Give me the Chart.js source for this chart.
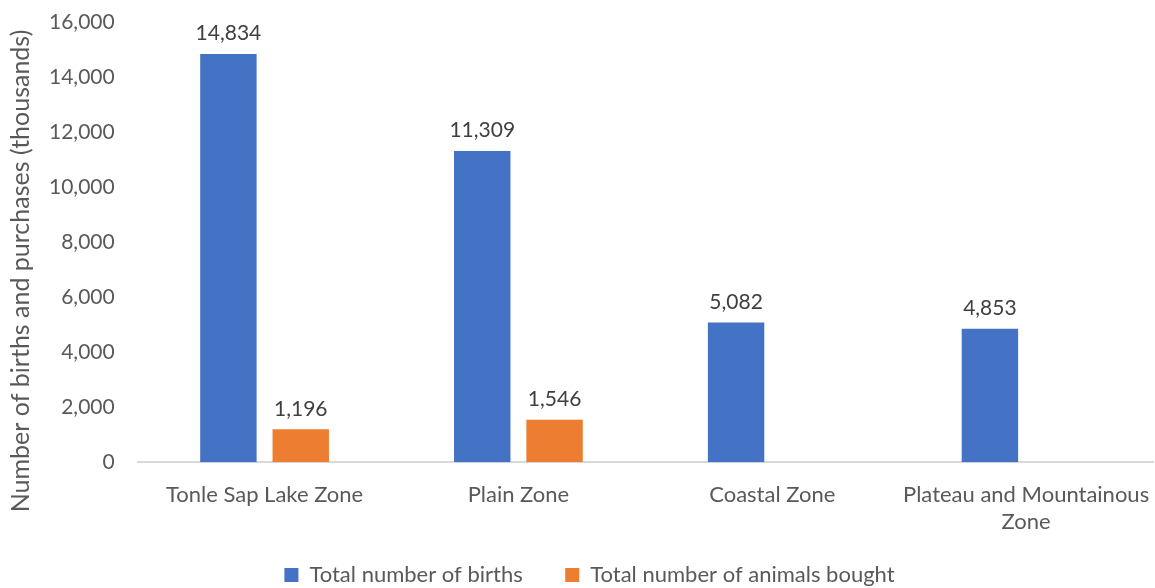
<!DOCTYPE html>
<html>
<head>
<meta charset="utf-8">
<script src="https://cdn.jsdelivr.net/npm/chart.js@4"></script>
<style>
  html, body { margin: 0; padding: 0; background: #fff; }
  #wrap { width: 1155px; height: 588px; }
</style>
</head>
<body>
<div id="wrap"><canvas id="myChart"></canvas></div>
<script>
var zones = ['Tonle Sap Lake Zone', 'Plain Zone', 'Coastal Zone', ['Plateau and Mountainous', 'Zone']];
var births = [14834, 11309, 5082, 4853];
var bought = [1196, 1546, null, null];
var yTicks = [0, 2000, 4000, 6000, 8000, 10000, 12000, 14000, 16000];
var yTitle = 'Number of births and purchases (thousands)';

var FONT = 'Lato, "Open Sans", sans-serif';

// draws the value above each bar
var barLabels = {
  id: 'barLabels',
  afterDatasetsDraw: function (chart) {
    var ctx = chart.ctx;
    ctx.save();
    ctx.font = '21px ' + FONT;
    ctx.fillStyle = '#404040';
    ctx.textAlign = 'center';
    ctx.textBaseline = 'bottom';
    chart.data.datasets.forEach(function (ds, i) {
      chart.getDatasetMeta(i).data.forEach(function (bar, j) {
        var v = ds.data[j];
        if (v == null) return;
        ctx.fillText(v.toLocaleString('en-US'), bar.x, bar.y - 10);
      });
    });
    ctx.restore();
  }
};

// rotated y axis title, placed like the excel one
var axisTitle = {
  id: 'axisTitle',
  afterDraw: function (chart) {
    var ctx = chart.ctx;
    ctx.save();
    ctx.translate(21, 271);
    ctx.rotate(-Math.PI / 2);
    ctx.font = '25px ' + FONT;
    ctx.fillStyle = '#595959';
    ctx.textAlign = 'center';
    ctx.textBaseline = 'middle';
    ctx.fillText(yTitle, 0, 0);
    ctx.restore();
  }
};

var ctx = document.getElementById('myChart').getContext('2d');
var chart = new Chart(ctx, {
  type: 'bar',
  data: {
    labels: zones,
    datasets: [{
      label: 'Total number of births',
      backgroundColor: '#4472c4',
      data: births
    },
    {
      label: 'Total number of animals bought',
      backgroundColor: '#ed7d31',
      data: bought
    }]
  },
  options: {
    responsive: true,
    maintainAspectRatio: false,
    animation: false,
    layout: { padding: { top: 22, right: 2, left: 26, bottom: -8 } },
    datasets: {
      bar: { categoryPercentage: 0.57, barPercentage: 0.78 }
    },
    plugins: {
      tooltip: { enabled: false },
      legend: {
        position: 'bottom',
        labels: {
          font: { family: FONT, size: 22 },
          color: '#595959',
          boxWidth: 14,
          boxHeight: 14,
          padding: 4,
          generateLabels: function (chart) {
            var items = Chart.defaults.plugins.legend.labels.generateLabels(chart);
            // wider gap between the two entries, like excel
            items[0].text = items[0].text + '\u2003\u2003\u2005';
            return items;
          }
        }
      }
    },
    scales: {
      x: {
        grid: { display: false, drawTicks: false },
        border: { display: true, color: '#d9d9d9', width: 2 },
        ticks: {
          font: { family: FONT, size: 22 },
          color: '#595959',
          maxRotation: 0,
          autoSkip: false,
          padding: 20
        },
        afterFit: function (axis) {
          axis.paddingLeft = 0;
          axis.paddingRight = 0;
          axis.height += 5;
        }
      },
      y: {
        min: 0,
        max: 16000,
        afterBuildTicks: function (axis) {
          axis.ticks = yTicks.map(function (v) { return { value: v }; });
        },
        grid: { display: false, drawTicks: false },
        border: { display: false },
        ticks: {
          font: { family: FONT, size: 21 },
          color: '#595959',
          padding: 23,
          callback: function (v) { return v.toLocaleString('en-US'); }
        },
        afterFit: function (axis) {
          axis.paddingTop = 0;
          axis.paddingBottom = 0;
        }
      }
    }
  },
  plugins: [barLabels, axisTitle]
});
</script>
</body>
</html>
